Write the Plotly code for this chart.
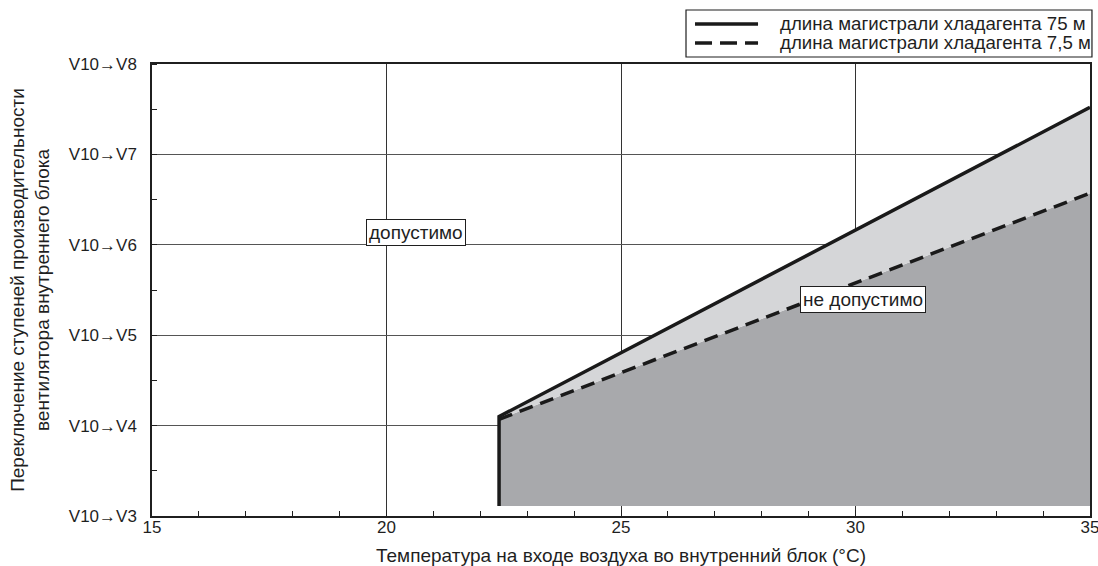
import plotly.graph_objects as go

# ---- data ----
y_floor = 0.11
line75_x = [22.4, 22.4, 35]
line75_y = [0.11, 1.10, 4.52]
line7_5_x = [22.4, 35]
line7_5_y = [1.07, 3.57]

x_ticks = [15, 20, 25, 30, 35]
y_tickvals = [0, 1, 2, 3, 4, 5]
y_ticktext = ["V10→V3", "V10→V4", "V10→V5", "V10→V6", "V10→V7", "V10→V8"]

name75 = "длина магистрали хладагента 75 м"
name7_5 = "длина магистрали хладагента 7,5 м"

FONT = "Liberation Sans, Arial, sans-serif"
TXT = "#1f1f1f"
LINE = "#1a1a1a"
DASH = "14px,8px"

fig = go.Figure()

# dark region below dashed line
fig.add_trace(go.Scatter(
    x=[line7_5_x[0], line7_5_x[-1], line7_5_x[-1], line7_5_x[0]],
    y=[y_floor, y_floor, line7_5_y[-1], line7_5_y[0]],
    fill="toself", fillcolor="#a8a9ac", line=dict(width=0),
    mode="lines", showlegend=False, hoverinfo="skip"))

# light region between lines
fig.add_trace(go.Scatter(
    x=[line75_x[1], line75_x[2], line7_5_x[1], line7_5_x[0]],
    y=[line75_y[1], line75_y[2], line7_5_y[1], line7_5_y[0]],
    fill="toself", fillcolor="#d5d6d8", line=dict(width=0),
    mode="lines", showlegend=False, hoverinfo="skip"))

fig.add_trace(go.Scatter(
    x=line75_x, y=line75_y, mode="lines", name=name75, showlegend=False,
    line=dict(color=LINE, width=3.5)))
fig.add_trace(go.Scatter(
    x=line7_5_x, y=line7_5_y, mode="lines", name=name7_5, showlegend=False,
    line=dict(color=LINE, width=3.5, dash=DASH)))

fig.add_annotation(x=20.63, y=3.14, text="допустимо", showarrow=False,
                   bgcolor="white", bordercolor=TXT, borderwidth=1, borderpad=2,
                   font=dict(family=FONT, size=19, color=TXT))
fig.add_annotation(x=30.16, y=2.39, text="не допустимо", showarrow=False,
                   bgcolor="white", bordercolor=TXT, borderwidth=1, borderpad=2,
                   font=dict(family=FONT, size=19, color=TXT))

# ---- legend (drawn in paper coordinates) ----
fig.add_shape(type="rect", xref="paper", yref="paper",
              x0=0.5693, x1=1.0021, y0=1.0155, y1=1.1195,
              line=dict(color=TXT, width=1.2), fillcolor="white", layer="above")
for yy, nm, dash in [(1.0885, name75, "solid"), (1.0465, name7_5, "17px,8px")]:
    fig.add_shape(type="line", xref="paper", yref="paper",
                  x0=0.5789, x1=0.6461, y0=yy, y1=yy,
                  line=dict(color=LINE, width=3.5, dash=dash), layer="above")
    fig.add_annotation(xref="paper", yref="paper", x=0.6674, y=yy, text=nm,
                       showarrow=False, xanchor="left", yanchor="middle",
                       font=dict(family=FONT, size=18.7, color=TXT))

fig.update_layout(
    width=1098, height=566,
    margin=dict(l=152, r=8, t=64, b=50, autoexpand=False),
    plot_bgcolor="white", paper_bgcolor="white",
    font=dict(family=FONT, size=17, color=TXT),
    showlegend=False,
    xaxis=dict(range=[15, 35], tickvals=x_ticks, ticks="inside", ticklen=6,
               tickcolor=TXT, showline=True, linecolor=TXT, linewidth=1.5,
               mirror=True, showgrid=True, gridcolor="#333", gridwidth=1,
               zeroline=False, ticklabelstandoff=-5, ticklabeloverflow="allow",
               minor=dict(dtick=1, ticks="inside", ticklen=5, tickcolor=TXT,
                          showgrid=False),
               title=dict(text="Температура на входе воздуха во внутренний блок (°C)",
                          font=dict(family=FONT, size=19, color=TXT), standoff=13)),
    yaxis=dict(range=[0, 5], tickvals=y_tickvals, ticktext=y_ticktext,
               ticks="", showline=True, linecolor=TXT, linewidth=1.5,
               mirror=True, showgrid=True, gridcolor="#555", gridwidth=1,
               zeroline=False, ticklabelstandoff=10,
               minor=dict(dtick=0.5, ticks="inside", ticklen=5, tickcolor=TXT,
                          showgrid=False),
               title=dict(text="Переключение ступеней производительности<br>вентилятора внутреннего блока",
                          font=dict(family=FONT, size=19, color=TXT), standoff=14)),
)

fig.write_html("out.html", config={"displayModeBar": False},
               post_script="document.body.style.margin='0';document.body.style.overflow='hidden';")
